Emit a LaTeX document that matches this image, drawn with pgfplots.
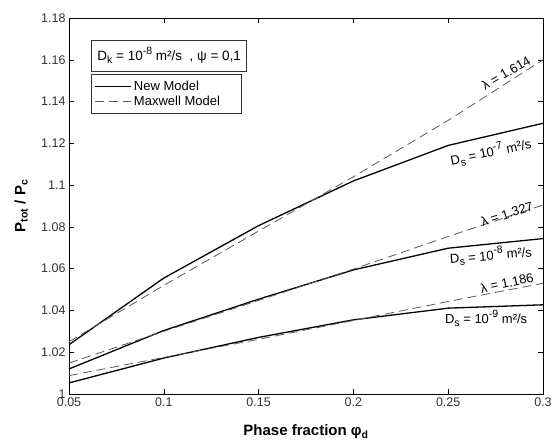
\documentclass[border=0pt]{standalone}
\usepackage{pgfplots}
\pgfplotsset{compat=1.18}
\usepackage{fontspec}
\setmainfont{Liberation Sans}
\newcommand{\sub}[1]{\raisebox{-0.45ex}{\fontsize{10.5}{11}\selectfont #1}}
\newcommand{\sups}[1]{\raisebox{0.85ex}{\fontsize{10.5}{11}\selectfont #1}}

\begin{document}
\begin{tikzpicture}[font=\fontsize{13}{15}\selectfont]
\begin{axis}[
  scale only axis, width=474pt, height=376pt,
  xmin=0.05, xmax=0.3, ymin=1, ymax=1.18,
  xtick={0.05,0.1,0.15,0.2,0.25,0.3},
  ytick={1,1.02,1.04,1.06,1.08,1.1,1.12,1.14,1.16,1.18},
  tick pos=both, tick align=inside,
  major tick length=5pt,
  axis line style={black, line width=0.6pt},
  tick style={black, line width=0.5pt},
  scaled ticks=false,
  /pgf/number format/assume math mode=true,
  /pgf/number format/fixed,
  /pgf/number format/precision=2,
  ticklabel style={font=\fontsize{12.5}{14}\selectfont, text=black!80},
  xlabel={Phase fraction φ\textsubscript{d}},
  ylabel={P\textsubscript{tot} / P\textsubscript{c}},
  xlabel style={font=\fontsize{15}{17}\selectfont\bfseries, at={(axis description cs:0.5,-0.10)}, anchor=center},
  ylabel style={font=\fontsize{15}{17}\selectfont\bfseries, at={(axis description cs:-0.101,0.5)}, anchor=center},
  legend style={at={(axis cs:0.0618,1.1534)}, anchor=north west, draw=black!80, line width=0.6pt,
    font=\fontsize{13}{15}\selectfont, inner xsep=3pt, inner ysep=5pt, row sep=0pt, cells={anchor=west}},
  legend image code/.code={\draw[#1] (0pt,0pt) -- (36pt,0pt);},
  new/.style={black, line width=1.3pt},
  maxw/.style={black!65, line width=0.8pt, dash pattern=on 9pt off 5pt},
]
\addplot[new] coordinates {(0.05,1.0236)(0.1,1.0555)(0.15,1.0806)(0.2,1.102)(0.25,1.119)(0.3,1.1296)};
\addlegendentry{\makebox[102pt][l]{New Model}}
\addplot[maxw] coordinates {(0.05,1.025)(0.1,1.052)(0.15,1.078)(0.2,1.104)(0.25,1.131)(0.3,1.160)};
\addlegendentry{\makebox[102pt][l]{Maxwell Model}}
\addplot[new, forget plot] coordinates {(0.05,1.012)(0.1,1.0304)(0.15,1.0454)(0.2,1.0594)(0.25,1.0698)(0.3,1.0744)};
\addplot[maxw, forget plot] coordinates {(0.05,1.0148)(0.1,1.0300)(0.15,1.0448)(0.2,1.0598)(0.25,1.0754)(0.3,1.0905)};
\addplot[new, forget plot] coordinates {(0.05,1.0053)(0.1,1.0172)(0.15,1.0271)(0.2,1.0355)(0.25,1.0411)(0.3,1.0427)};
\addplot[maxw, forget plot] coordinates {(0.05,1.0088)(0.1,1.0175)(0.15,1.0262)(0.2,1.0352)(0.25,1.0443)(0.3,1.053)};

\node[draw=black!80, line width=0.6pt, anchor=north west, minimum height=31pt, minimum width=155pt, inner xsep=4pt, font=\fontsize{13.5}{15}\selectfont]
  at (axis cs:0.0618,1.1696) {D\sub{k} = 10\sups{-8} m²/s\ \ , ψ = 0,1};

\node[rotate=30] at (axis cs:0.2805,1.1537) {λ = 1.614};
\node[rotate=12] at (axis cs:0.2725,1.1160) {D\sub{s} = 10\sups{-7} m²/s};
\node[rotate=18] at (axis cs:0.281,1.0862) {λ = 1.327};
\node[rotate=5] at (axis cs:0.2725,1.0665) {D\sub{s} = 10\sups{-8} m²/s};
\node[rotate=12] at (axis cs:0.281,1.0532) {λ = 1.186};
\node at (axis cs:0.27,1.0362) {D\sub{s} = 10\sups{-9} m²/s};
\end{axis}
\pgfresetboundingbox
\path ([shift={(-69pt,-50pt)}]current axis.south west) rectangle ([shift={(10pt,18pt)}]current axis.north east);
\end{tikzpicture}
\end{document}
